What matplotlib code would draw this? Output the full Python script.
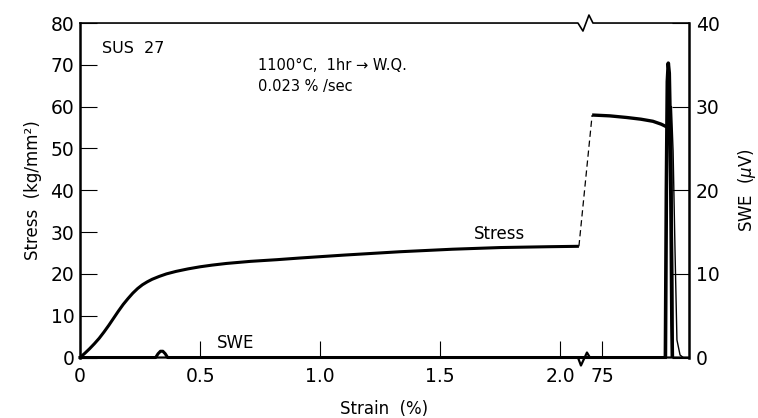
import numpy as np
import matplotlib
matplotlib.use("Agg")
import matplotlib.pyplot as plt
from matplotlib.lines import Line2D

plt.rcParams['font.family'] = ['DejaVu Sans']

# Broken strain axis: 0 .. 2.1 %, then 74.925 .. 75.36 %
BREAK_LO = 2.1
BREAK_HI = 74.925
X_MAX = 75.36

# Stress-strain curve, uniform part
stress_strain_a = [0.0, 0.02, 0.04, 0.06, 0.08, 0.10, 0.12, 0.14, 0.16, 0.18, 0.20,
                   0.22, 0.24, 0.26, 0.28, 0.30, 0.33, 0.36, 0.40, 0.45, 0.50,
                   0.55, 0.61, 0.71, 0.82, 0.916, 1.10, 1.332, 1.55, 1.749, 1.95, 2.077]
stress_a = [0.0, 1.0, 2.1, 3.3, 4.6, 6.1, 7.7, 9.4, 11.1, 12.7, 14.1,
            15.4, 16.5, 17.4, 18.1, 18.7, 19.4, 20.0, 20.6, 21.2, 21.7,
            22.1, 22.5, 23.0, 23.4, 23.8, 24.5, 25.3, 25.9, 26.3, 26.5, 26.6]
# Stress near fracture
stress_strain_b = [74.957, 75.03, 75.102, 75.16, 75.21, 75.245, 75.273]
stress_b = [58.0, 57.8, 57.4, 57.0, 56.5, 55.8, 55.0]

# SWE baseline with the small burst near 0.34 %
swe_strain = [0.0, 0.315, 0.325, 0.335, 0.345, 0.355, 0.365, 0.40, 1.0, 2.1, 75.0, 75.262]
swe_value = [0.0, 0.0, 0.45, 0.75, 0.75, 0.45, 0.0, 0.0, 0.0, 0.0, 0.0, 0.0]
# SWE burst at fracture
peak_strain = [75.262, 75.266, 75.270, 75.274, 75.278, 75.282, 75.286, 75.289, 75.291]
peak_value = [0.0, 20.0, 33.0, 35.2, 34.0, 28.0, 15.0, 4.0, 0.0]
peak2_strain = [75.288, 75.2925, 75.2935]
peak2_value = [27.0, 10.0, 0.0]
tail_strain = [75.287, 75.294, 75.302, 75.310, 75.323, 75.336]
tail_value = [30.0, 24.7, 12.8, 2.1, 0.3, 0.0]

x_ticks = [0, 0.5, 1.0, 1.5, 2.0, 75]
x_tick_labels = ['0', '0.5', '1.0', '1.5', '2.0', '75']
stress_ticks = [0, 10, 20, 30, 40, 50, 60, 70, 80]
swe_ticks = [0, 10, 20, 30, 40]


def fwd(x):
    x = np.asarray(x, dtype=float)
    return np.where(x <= BREAK_LO, x,
                    np.where(x >= BREAK_HI, BREAK_LO + (x - BREAK_HI), BREAK_LO))


def inv(y):
    y = np.asarray(y, dtype=float)
    return np.where(y <= BREAK_LO, y, BREAK_HI + (y - BREAK_LO))


fig = plt.figure(figsize=(7.58, 4.18), dpi=100)
ax = fig.add_axes([0.1055, 0.1447, 0.8034, 0.8002])
ax.set_xscale('function', functions=(fwd, inv))
ax.set_xlim(0, X_MAX)
ax.set_ylim(0, 80)

ax2 = ax.twinx()
ax2.set_ylim(0, 40)

# Stress curves and the dashed jump across the break
ax.plot(stress_strain_a, stress_a, color='black', lw=2.2, solid_capstyle='butt',
        solid_joinstyle='round', zorder=3)
ax.plot(stress_strain_b, stress_b, color='black', lw=2.4, solid_capstyle='butt', zorder=3)
ax.plot([stress_strain_a[-1], stress_strain_b[0]], [stress_a[-1], stress_b[0]],
        color='black', lw=0.9, ls=(0, (5, 3)), zorder=3)

# SWE
ax2.plot(swe_strain, swe_value, color='black', lw=2.2, zorder=3, clip_on=False)
ax2.plot(peak_strain, peak_value, color='black', lw=2.6, zorder=3)
ax2.plot(peak2_strain, peak2_value, color='black', lw=1.0, zorder=3)
ax2.plot(tail_strain, tail_value, color='black', lw=1.0, zorder=3)

# Spines: left/right plain, top/bottom drawn with break marks
for s in ['top', 'bottom']:
    ax.spines[s].set_visible(False)
for s in ax2.spines.values():
    s.set_visible(False)
ax.spines['left'].set_linewidth(1.8)
ax.spines['right'].set_linewidth(1.8)

W = 609.0
H = 334.5
xb = 505.0 / W


def px(dx):
    return dx / W


def py(dy):
    return dy / H


top_x = [0, xb + px(-7), xb + px(-2), xb + px(4), xb + px(8), 1]
top_y = [1, 1, 1 - py(8), 1 + py(8), 1, 1]
ax.add_line(Line2D(top_x, top_y, transform=ax.transAxes, color='black', lw=1.2,
                   clip_on=False, zorder=4))
bot_x = [0, xb + px(-7), xb + px(-4), xb + px(2), xb + px(5), 1]
bot_y = [0, 0, -py(8), py(5), 0, 0]
ax.add_line(Line2D(bot_x, bot_y, transform=ax.transAxes, color='black', lw=1.6,
                   clip_on=False, zorder=4))

# Ticks
ax.set_xticks(x_ticks)
ax.set_xticklabels(x_tick_labels)
ax.set_yticks(stress_ticks)
ax2.set_yticks(swe_ticks)
ax.xaxis.set_minor_locator(matplotlib.ticker.NullLocator())
ax.tick_params(axis='both', direction='in', length=12, width=0.8, labelsize=13.5,
               right=False, top=False)
ax.tick_params(axis='x', pad=7)
ax.tick_params(axis='y', pad=4)
ax2.tick_params(axis='y', direction='in', length=12, width=0.8, labelsize=13.5, pad=5)

ax.set_xlabel('Strain  (%)', fontsize=12, labelpad=10)
ax.set_ylabel('Stress  (kg/mm²)', fontsize=12, labelpad=6)
ax2.set_ylabel(r'SWE  ($\mu$V)', fontsize=12, labelpad=12)

# Annotations
ax.text(0.09, 74.0, 'SUS  27', fontsize=11.5, ha='left', va='center')
ax.text(0.74, 69.8, '1100°C,  1hr → W.Q.', fontsize=10.5, ha='left', va='center')
ax.text(0.74, 64.8, '0.023 % /sec', fontsize=10.5, ha='left', va='center')
ax.text(1.64, 29.5, 'Stress', fontsize=12, ha='left', va='center')
ax.text(0.57, 3.5, 'SWE', fontsize=12, ha='left', va='center')

fig.savefig('out.png', dpi=100)
